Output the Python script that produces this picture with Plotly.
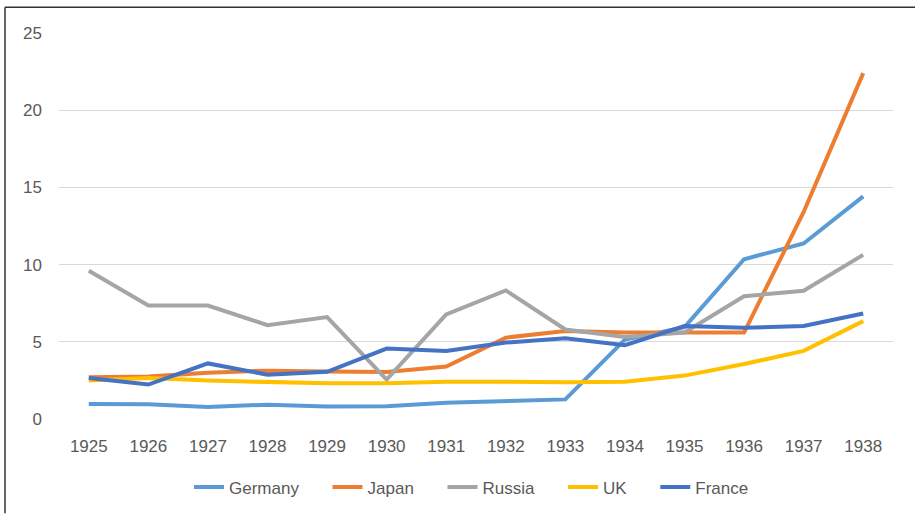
import plotly.graph_objects as go

years = ["1925", "1926", "1927", "1928", "1929", "1930", "1931",
         "1932", "1933", "1934", "1935", "1936", "1937", "1938"]
germany = [0.97, 0.96, 0.77, 0.93, 0.81, 0.82, 1.05, 1.13, 1.27, 5.15, 5.95, 10.35, 11.37, 14.42]
japan = [2.7, 2.75, 3.0, 3.13, 3.08, 3.04, 3.4, 5.27, 5.7, 5.6, 5.6, 5.6, 13.41, 22.4]
russia = [9.6, 7.35, 7.35, 6.08, 6.6, 2.55, 6.77, 8.33, 5.8, 5.31, 5.6, 7.95, 8.31, 10.63]
uk = [2.49, 2.65, 2.49, 2.38, 2.31, 2.31, 2.42, 2.42, 2.38, 2.42, 2.81, 3.56, 4.41, 6.34]
france = [2.65, 2.23, 3.6, 2.87, 3.06, 4.56, 4.41, 4.95, 5.23, 4.78, 6.02, 5.91, 6.02, 6.83]

series = [
    ("Germany", germany, "#5B9BD5"),
    ("Japan", japan, "#ED7D31"),
    ("Russia", russia, "#A5A5A5"),
    ("UK", uk, "#FFC000"),
    ("France", france, "#4472C4"),
]

PAD = "\u00a0" * 5

fig = go.Figure()
for name, vals, color in series:
    fig.add_trace(go.Scatter(x=years, y=vals, name=name + PAD, mode="lines",
                             line=dict(color=color, width=4)))

L, R, T, B = 59, 893, 33, 422
W, H = 915, 517
pw, ph = R - L, B - T

def px_x(p):
    return (p - L) / pw

def px_y(p):
    return (B - p) / ph

font = dict(family="Liberation Sans, Arial, sans-serif", size=17, color="#595959")

fig.update_layout(
    width=W, height=H,
    margin=dict(l=L, r=W - R, t=T, b=H - B),
    paper_bgcolor="white", plot_bgcolor="white",
    font=font,
    showlegend=True,
    legend=dict(orientation="h", x=px_x(229 - 40), xanchor="left", y=px_y(491), yanchor="middle",
                font=font, itemwidth=30, tracegroupgap=0),
    xaxis=dict(type="category", range=[-0.5, 13.5], showgrid=False, zeroline=False,
               showline=False, ticks="outside", ticklen=12, tickcolor="rgba(0,0,0,0)",
               tickfont=font),
    yaxis=dict(range=[0, 25], tickvals=[0, 5, 10, 15, 20, 25], showgrid=True,
               gridcolor="#D9D9D9", gridwidth=1.3, zeroline=False, showline=False,
               ticks="", ticklabelstandoff=16, tickfont=font),
    shapes=[
        dict(type="line", xref="paper", yref="paper", x0=px_x(5), x1=px_x(915),
             y0=px_y(7), y1=px_y(7), line=dict(color="#333333", width=1.5)),
        dict(type="line", xref="paper", yref="paper", x0=px_x(5), x1=px_x(5),
             y0=px_y(7), y1=px_y(517), line=dict(color="#333333", width=1.5)),
    ],
)

fig.write_html("out.html", config={"displayModeBar": False},
               post_script="document.body.style.margin='0';document.body.style.overflow='hidden';")
